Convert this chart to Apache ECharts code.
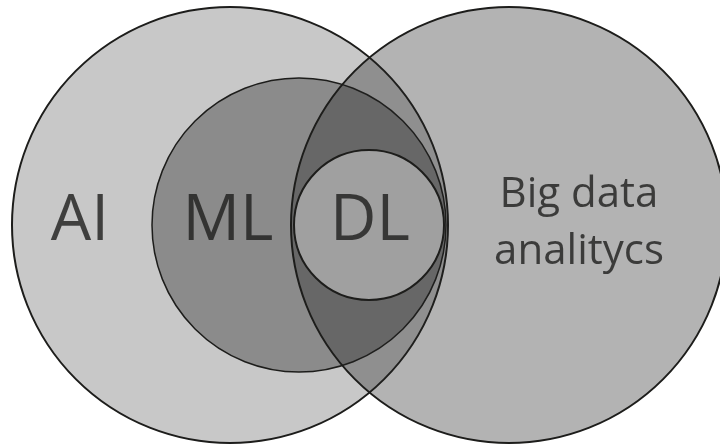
<!DOCTYPE html>
<html>
<head>
<meta charset="utf-8">
<script src="https://cdn.jsdelivr.net/npm/echarts@6/dist/echarts.min.js"></script>
<style>
  html, body { margin: 0; padding: 0; background: #fff; }
  #chart { width: 720px; height: 445px; }
</style>
</head>
<body>
<div id="chart"></div>
<script>
// sets, in drawing order (centre x / y and radius, plot units)
const setNames = ['AI', 'ML', 'Big data analitycs', 'DL']
const centerX = [230, 299, 509, 369]
const centerY = [225, 225, 225, 225]
const radius = [218, 147, 218, 75]

// labels
const labelText = ['AI', 'ML', 'DL', 'Big data\nanalitycs']
const labelX = [80, 228, 370, 579]
const labelY = [222, 222, 222, 224]

// look of each set
const setFill = ['#c8c8c8', '#8b8b8b', 'rgba(35,35,35,0.345)', '#a0a0a0']
const setLine = [2, 1.5, 2, 2]
const labelSize = [64, 64, 64, 42]

const chart = echarts.init(document.getElementById('chart'))

chart.setOption({
  animation: false,
  grid: { left: 0, right: 0, top: 0, bottom: 0 },
  xAxis: { type: 'value', min: 0, max: 720, show: false },
  yAxis: { type: 'value', min: 0, max: 445, inverse: true, show: false },
  series: [
    {
      type: 'custom',
      silent: true,
      data: setNames.map((n, i) => ({ name: n, value: [i, centerX[i], centerY[i], radius[i]] })),
      renderItem: (params, api) => {
        const i = api.value(0)
        const c = api.coord([api.value(1), api.value(2)])
        const r = api.size([api.value(3), 0])[0]
        return {
          type: 'circle',
          shape: { cx: c[0], cy: c[1], r },
          style: { fill: setFill[i], stroke: '#1d1d1b', lineWidth: setLine[i] },
        }
      },
    },
    {
      type: 'scatter',
      silent: true,
      symbolSize: 0,
      z: 5,
      data: labelText.map((t, i) => ({
        name: t,
        value: [labelX[i], labelY[i]],
        label: { fontSize: labelSize[i], lineHeight: Math.round(labelSize[i] * 1.36) },
      })),
      label: {
        show: true,
        position: 'inside',
        formatter: (p) => p.name,
        color: '#1d1d1b',
        fontFamily: 'Open Sans',
        align: 'center',
        verticalAlign: 'middle',
      },
    },
  ],
})
</script>
</body>
</html>
